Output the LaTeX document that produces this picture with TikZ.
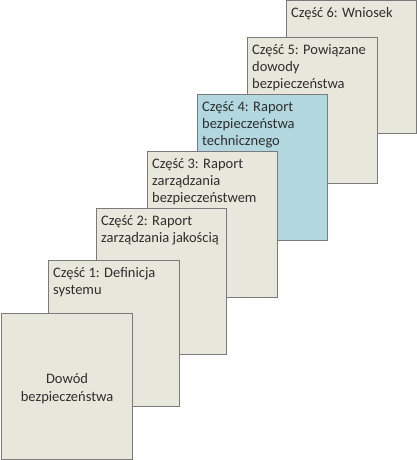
\documentclass[tikz,border=0pt]{standalone}
\usepackage{fontspec}
\setmainfont{Carlito}
\usepackage{tikz}
\definecolor{beige}{HTML}{E8E7DB}
\definecolor{seablue}{HTML}{B2D7DF}
\definecolor{rim}{HTML}{7A7A7A}
\definecolor{ink}{HTML}{2E2E2E}

\begin{document}
\begin{tikzpicture}[x=1pt,y=1pt,
        part/.style={draw=rim,line width=1.1pt,fill=beige,anchor=north west,
          minimum width=130pt,minimum height=146pt,inner sep=0pt},
        parttext/.style={anchor=north west,align=left,inner sep=0pt,text=ink,
          font=\fontsize{14.5}{16.7}\selectfont,xshift=5pt,yshift=-7.5pt}]
        \useasboundingbox (0,0) rectangle (416,-460);
        \node[part,minimum height=133pt] (p6) at (286,0) {};
        \node[parttext] (t6) at (p6.north west) {Część 6: Wniosek};
        \node[part] (p5) at (247,-37) {};
        \node[parttext] (t5) at (p5.north west) {Część 5: Powiązane\\dowody\\bezpieczeństwa};
        \node[part,fill=seablue] (p4) at (197,-94) {};
        \node[parttext] (t4) at (p4.north west) {Część 4: Raport\\bezpieczeństwa\\technicznego};
        \node[part] (p3) at (147,-151) {};
        \node[parttext] (t3) at (p3.north west) {Część 3: Raport\\zarządzania\\bezpieczeństwem};
        \node[part] (p2) at (96,-208) {};
        \node[parttext] (t2) at (p2.north west) {Część 2: Raport\\zarządzania jakością};
        \node[part,minimum width=131pt] (p1) at (48,-260) {};
        \node[parttext] (t1) at (p1.north west) {Część 1: Definicja\\systemu};
        \node[part,minimum width=131pt] (p0) at (1,-313) {};
        \node[align=center,text=ink,font=\fontsize{14.5}{17.5}\selectfont,yshift=-2pt] (t0) at (p0.center) {Dowód\\bezpieczeństwa};
    \end{tikzpicture}
\end{document}
